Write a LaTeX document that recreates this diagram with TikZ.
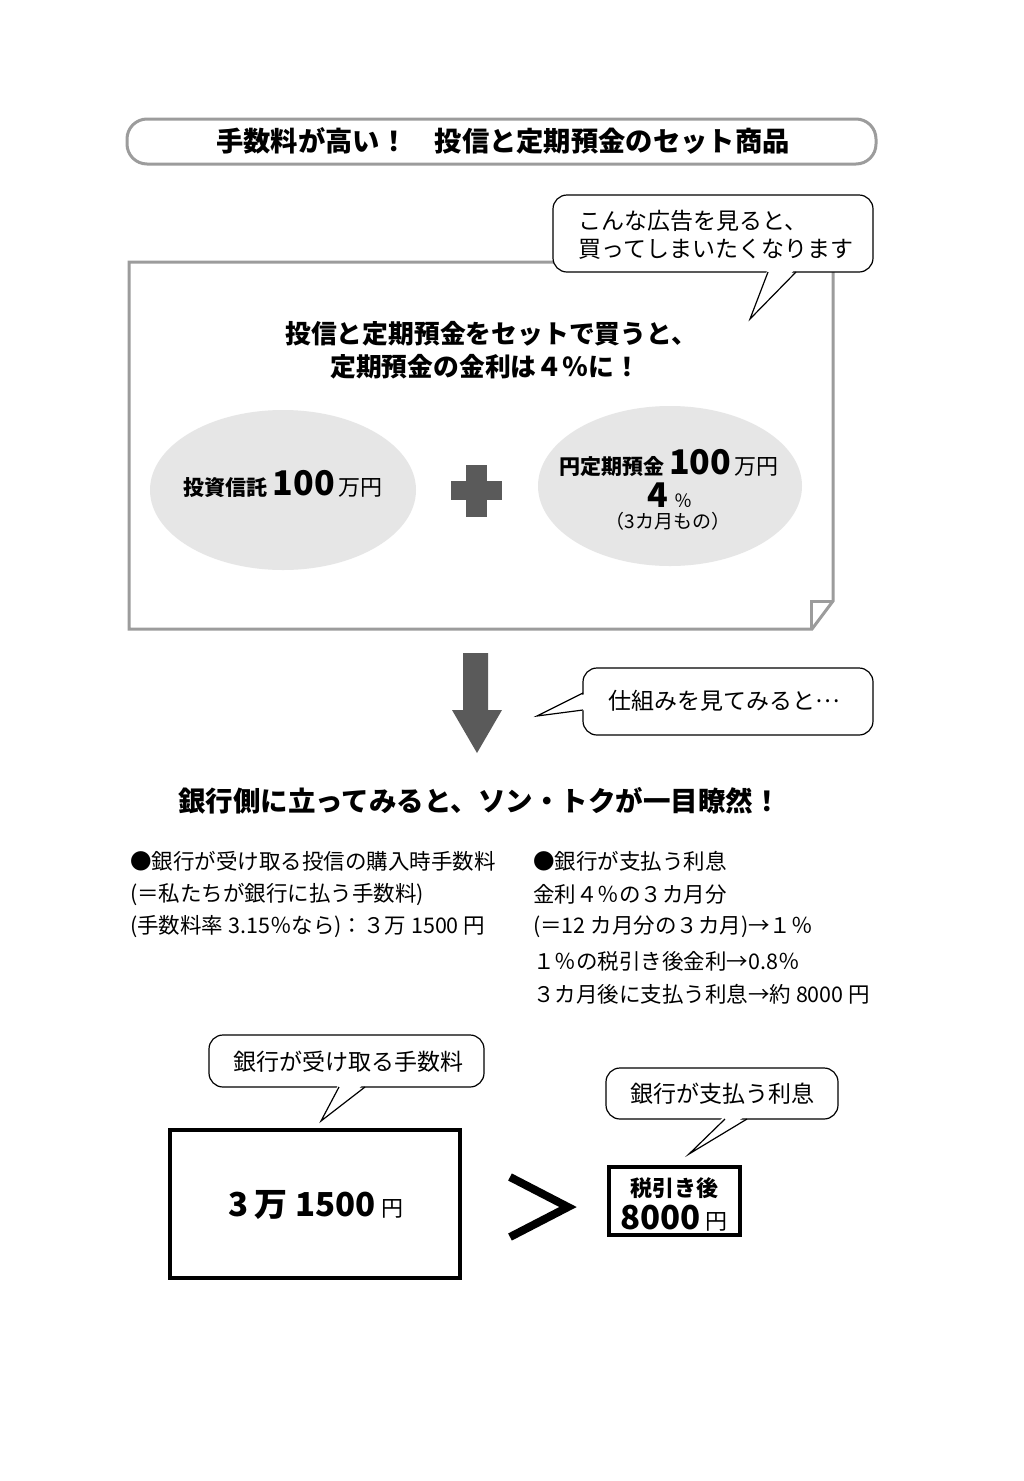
\documentclass[tikz,border=0pt]{standalone}
\usepackage{fontspec}
\setmainfont{Noto Sans CJK JP}
\definecolor{framegray}{HTML}{9C9C9C}
\definecolor{ellgray}{HTML}{E6E6E6}
\definecolor{symgray}{HTML}{5A5A5A}
\newcommand{\fs}[1]{\fontsize{#1}{#1}\selectfont}
\tikzset{
  bubble/.style={draw=black, line width=1.2, fill=white, rounded corners=14, inner sep=0},
  tailline/.style={draw=black, line width=1.2},
  txt/.style={inner sep=0, anchor=west},
  listtxt/.style={inner sep=0, anchor=west, font=\fs{21.5}},
  ell/.style={ellipse, fill=ellgray, inner sep=0},
  thickbox/.style={draw=black, line width=4, inner sep=0}
}
\usetikzlibrary{shapes.geometric}
\begin{document}
\begin{tikzpicture}[x=1pt,y=-1pt]
\useasboundingbox (0,0) rectangle (1024,1481);
\fill[white] (0,0) rectangle (1024,1481);

% title
\node[draw=framegray, line width=3, rounded corners=20, minimum width=749, minimum height=45, inner sep=0] (title) at (501.5,141.5) {};
\node[inner sep=0, font=\bfseries\fs{27.3}] (titletxt) at (503,141) {手数料が高い！　投信と定期預金のセット商品};

% advertisement sheet
\draw[framegray, line width=3, line join=miter]
  (129,262) coordinate (adtl) -- (833,262) -- (833,601) coordinate (foldtop)
  -- (812,629) coordinate (foldbot) -- (129,629) -- cycle;
\draw[framegray, line width=3] (foldtop) -- (811,601) -- (foldbot -| 811,629);

\node[txt, font=\bfseries\fs{25.8}] (head1) at (285,334) {投信と定期預金をセットで買うと、};
\node[txt, font=\bfseries\fs{25.8}] (head2) at (330,367) {定期預金の金利は４％に！};

\node[ell, minimum width=266, minimum height=160] (ellL) at (283,490) {};
\node[ell, minimum width=264, minimum height=160] (ellR) at (670,486) {};

\node[inner sep=0, font=\bfseries\fs{21}] (ellLtxt) at (283,484)
  {投資信託 {\fs{34}100}\,{\mdseries\fs{22}万円}};
\node[inner sep=0, font=\bfseries\fs{21}] (ellRtxt1) at (669,463)
  {円定期預金 {\fs{34}100}\,{\mdseries\fs{22}万円}};
\node[inner sep=0, font=\bfseries\fs{34}] (ellRtxt2) at (670,495)
  {4\,{\mdseries\fs{18}％}};
\node[inner sep=0, font=\fs{19}] (ellRtxt3) at (668,521) {（3カ月もの）};

% plus sign
\fill[symgray] (466,465) rectangle (487,517);
\fill[symgray] (451,481) rectangle (502,500);

% callout 1
\node[bubble, minimum width=320, minimum height=77] (c1) at (713,233.5) {};
\coordinate (c1tip) at (750,319);
\fill[white] (768,268) -- (c1tip) -- (796,268) -- cycle;
\draw[tailline] (768,272) -- (c1tip) -- (796,272);
\node[txt, font=\fs{23}] (c1txt1) at (578,221) {こんな広告を見ると、};
\node[txt, font=\fs{23}] (c1txt2) at (578,249) {買ってしまいたくなります};

% down arrow
\fill[symgray] (463,653) -- (488,653) -- (488,710) -- (502,710) -- (477,753)
  -- (452,710) -- (463,710) -- cycle;

% callout 2
\node[bubble, minimum width=290, minimum height=67] (c2) at (728,701.5) {};
\coordinate (c2tip) at (537,716);
\fill[white] (587,693) -- (c2tip) -- (587,710) -- cycle;
\draw[tailline] (583,693) -- (c2tip) -- (583,710);
\node[txt, font=\fs{23}] (c2txt) at (608,701) {仕組みを見てみると\raisebox{0.3em}{…}};

% headline 2
\node[txt, font=\bfseries\fs{27.5}] (head3) at (178,801) {銀行側に立ってみると、ソン・トクが一目瞭然！};

% lists
\node[listtxt] (l1) at (130,861) {●銀行が受け取る投信の購入時手数料};
\node[listtxt] (l2) at (130,894) {(＝私たちが銀行に払う手数料)};
\node[listtxt] (l3) at (130,927) {(手数料率 3.15％なら)：３万 1500 円};
\node[listtxt] (r1) at (533,861) {●銀行が支払う利息};
\node[listtxt] (r2) at (533,894) {金利４％の３カ月分};
\node[listtxt] (r3) at (533,927) {(＝12 カ月分の３カ月)→１％};
\node[listtxt] (r4) at (533,961) {１％の税引き後金利→0.8％};
\node[listtxt] (r5) at (533,994) {３カ月後に支払う利息→約 8000 円};

% bottom comparison
\node[thickbox, minimum width=290, minimum height=148] (fee) at (315,1204) {};
\node[inner sep=0, font=\bfseries\fs{33}] (feetxt) at (316,1205) {3\,万 1500\,{\mdseries\fs{22}円}};

\draw[line width=8, line join=miter, line cap=butt] (510,1177) coordinate (gt1) -- (568,1207) coordinate (gtapex) -- (510,1237) coordinate (gt2);

\node[thickbox, minimum width=131, minimum height=68] (int) at (674.5,1201) {};
\node[inner sep=0, font=\bfseries\fs{22}] (inttxt1) at (674,1188) {税引き後};
\node[inner sep=0, font=\bfseries\fs{33}] (inttxt2) at (674,1218) {8000\,{\mdseries\fs{22}円}};

% callout 3
\node[bubble, minimum width=275, minimum height=52] (c3) at (346.5,1061) {};
\coordinate (c3tip) at (321,1121);
\fill[white] (339,1083) -- (c3tip) -- (365,1083) -- cycle;
\draw[tailline] (339,1087) -- (c3tip) -- (365,1087);
\node[inner sep=0, font=\fs{23}] (c3txt) at (348,1062) {銀行が受け取る手数料};

% callout 4
\node[bubble, minimum width=232, minimum height=51] (c4) at (722,1093.5) {};
\coordinate (c4tip) at (689,1154);
\fill[white] (725,1115) -- (c4tip) -- (747,1115) -- cycle;
\draw[tailline] (725,1119) -- (c4tip) -- (747,1119);
\node[inner sep=0, font=\fs{23}] (c4txt) at (722,1094) {銀行が支払う利息};
\end{tikzpicture}
\end{document}
